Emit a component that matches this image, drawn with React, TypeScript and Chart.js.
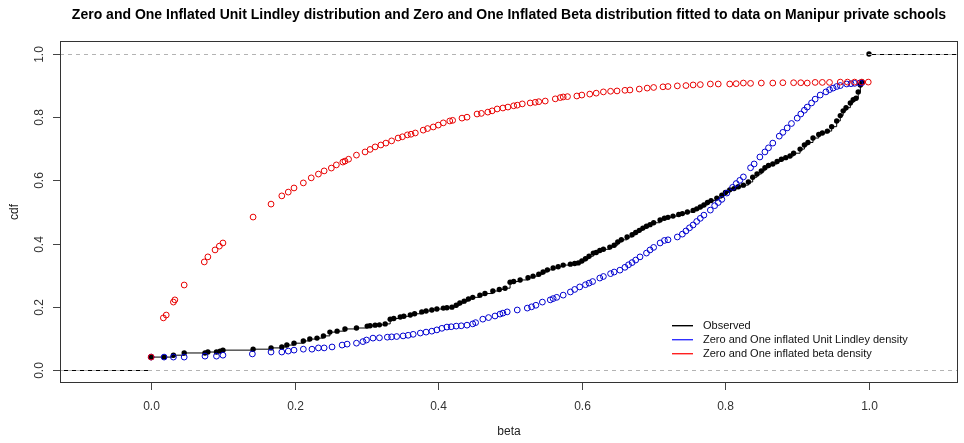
import React, { useEffect, useRef } from 'react';
import { Chart, registerables } from 'chart.js';
Chart.register(...registerables);

const titleText =
  'Zero and One Inflated Unit Lindley distribution and Zero and One Inflated Beta distribution fitted to data on Manipur private schools';
const xAxisLabel = 'beta';
const yAxisLabel = 'cdf';
const xTickValues = [0, 0.2, 0.4, 0.6, 0.8, 1.0];
const xTickLabels = ['0.0', '0.2', '0.4', '0.6', '0.8', '1.0'];
const yTickValues = [0, 0.2, 0.4, 0.6, 0.8, 1.0];
const yTickLabels = ['0.0', '0.2', '0.4', '0.6', '0.8', '1.0'];
const legendLabels = [
  'Observed',
  'Zero and One inflated Unit Lindley density',
  'Zero and One inflated beta density',
];
const legendColors = ['#000000', '#3030ff', '#ff2020'];
const xLimits = [-0.127, 1.124];
const yLimits = [-0.041, 1.041];
const refLevels = [0, 1];

// Observed empirical cdf
const obsX = [
  0.0, 0.018, 0.031, 0.046, 0.075, 0.079, 0.091, 0.096, 0.1, 0.142, 0.167, 0.182, 0.189, 0.199, 0.212, 0.221,
  0.231, 0.24, 0.249, 0.259, 0.27, 0.286, 0.301, 0.305, 0.312, 0.318, 0.326, 0.333, 0.338, 0.347, 0.352, 0.361,
  0.367, 0.377, 0.383, 0.391, 0.398, 0.407, 0.412, 0.419, 0.425, 0.43, 0.436, 0.442, 0.448, 0.458, 0.465, 0.476,
  0.485, 0.493, 0.5, 0.505, 0.514, 0.525, 0.532, 0.54, 0.546, 0.552, 0.56, 0.567, 0.574, 0.584, 0.59, 0.595,
  0.6, 0.605, 0.61, 0.616, 0.62, 0.625, 0.63, 0.639, 0.645, 0.65, 0.655, 0.663, 0.67, 0.675, 0.68, 0.685, 0.69,
  0.695, 0.7, 0.709, 0.715, 0.72, 0.727, 0.735, 0.74, 0.747, 0.755, 0.76, 0.765, 0.77, 0.775, 0.78, 0.788, 0.795,
  0.8, 0.806, 0.812, 0.818, 0.825, 0.832, 0.838, 0.844, 0.85, 0.855, 0.86, 0.866, 0.872, 0.878, 0.884, 0.89,
  0.895, 0.904, 0.91, 0.915, 0.922, 0.93, 0.935, 0.942, 0.948, 0.955, 0.96, 0.964, 0.968, 0.974, 0.978, 0.982,
  0.985, 0.988, 0.99,
];
const obsY = [
  0.041, 0.041, 0.047, 0.054, 0.054, 0.057, 0.057, 0.06, 0.063, 0.066, 0.07, 0.073, 0.079, 0.085, 0.092, 0.098,
  0.101, 0.108, 0.12, 0.123, 0.13, 0.133, 0.139, 0.14, 0.142, 0.143, 0.146, 0.161, 0.163, 0.168, 0.17, 0.174,
  0.178, 0.184, 0.187, 0.19, 0.193, 0.196, 0.197, 0.199, 0.205, 0.212, 0.218, 0.225, 0.23, 0.237, 0.242, 0.25,
  0.255, 0.259, 0.278, 0.28, 0.285, 0.292, 0.297, 0.303, 0.31, 0.317, 0.323, 0.327, 0.332, 0.335, 0.337, 0.339,
  0.345, 0.352, 0.36, 0.37, 0.372, 0.378, 0.382, 0.389, 0.395, 0.405, 0.412, 0.421, 0.428, 0.435, 0.442, 0.449, 0.455,
  0.46, 0.466, 0.475, 0.48, 0.483, 0.487, 0.492, 0.495, 0.5, 0.505, 0.51, 0.516, 0.522, 0.53, 0.536, 0.544, 0.553,
  0.562, 0.57, 0.574, 0.58, 0.585, 0.595, 0.61, 0.62, 0.63, 0.64, 0.647, 0.652, 0.66, 0.667, 0.672, 0.677,
  0.686, 0.699, 0.712, 0.72, 0.734, 0.745, 0.75, 0.756, 0.77, 0.788, 0.805, 0.82, 0.83, 0.845, 0.855, 0.86,
  0.88, 0.902, 0.911,
];
const obsOneX = [1.0];
const obsOneY = [1.0];

// Zero and One inflated Unit Lindley cdf at the data
const lindleyX = [
  0.0, 0.018, 0.031, 0.046, 0.075, 0.091, 0.1, 0.141, 0.167, 0.182, 0.191, 0.199, 0.212, 0.224, 0.233, 0.241,
  0.252, 0.266, 0.273, 0.286, 0.309, 0.329, 0.351, 0.375, 0.391, 0.412, 0.44, 0.462, 0.479, 0.496, 0.524, 0.556,
  0.56, 0.565, 0.574, 0.584, 0.59, 0.597, 0.605, 0.61, 0.615, 0.625, 0.63, 0.64, 0.645, 0.653, 0.66, 0.665, 0.67,
  0.675, 0.681, 0.69, 0.695, 0.7, 0.709, 0.715, 0.72, 0.733, 0.74, 0.745, 0.75, 0.755, 0.76, 0.765, 0.77, 0.779,
  0.785, 0.79, 0.795, 0.802, 0.81, 0.815, 0.82, 0.825, 0.835, 0.84, 0.848, 0.855, 0.86, 0.866, 0.875, 0.88, 0.886,
  0.892, 0.9, 0.905, 0.91, 0.914, 0.92, 0.925, 0.932, 0.94, 0.945, 0.95, 0.955, 0.96, 0.969, 0.975, 0.98, 0.987,
  0.99,
  0.295, 0.3, 0.318, 0.335, 0.342, 0.358, 0.365, 0.383, 0.398, 0.405, 0.418, 0.425, 0.432, 0.448, 0.452, 0.47,
  0.486, 0.49, 0.51, 0.53, 0.536, 0.545,
];
const lindleyY = [
  0.041, 0.041, 0.041, 0.041, 0.044, 0.044, 0.047, 0.051, 0.057, 0.057, 0.06, 0.063, 0.066, 0.066, 0.07, 0.07,
  0.073, 0.079, 0.082, 0.085, 0.101, 0.104, 0.108, 0.117, 0.123, 0.136, 0.142, 0.161, 0.171, 0.184, 0.196, 0.222,
  0.226, 0.23, 0.237, 0.247, 0.255, 0.263, 0.27, 0.275, 0.28, 0.291, 0.296, 0.305, 0.31, 0.316, 0.325, 0.333, 0.34,
  0.348, 0.358, 0.37, 0.38, 0.388, 0.402, 0.41, 0.412, 0.421, 0.43, 0.44, 0.45, 0.459, 0.47, 0.48, 0.49, 0.506,
  0.52, 0.53, 0.54, 0.56, 0.578, 0.59, 0.6, 0.611, 0.64, 0.652, 0.674, 0.69, 0.703, 0.718, 0.74, 0.752, 0.766,
  0.78, 0.797, 0.81, 0.822, 0.832, 0.845, 0.857, 0.87, 0.88, 0.887, 0.892, 0.897, 0.9, 0.905, 0.906, 0.907, 0.908,
  0.909,
  0.09, 0.095, 0.102, 0.105, 0.106, 0.11, 0.113, 0.12, 0.127, 0.132, 0.137, 0.139, 0.14, 0.146, 0.15, 0.166,
  0.177, 0.18, 0.19, 0.2, 0.205, 0.215,
];

// Zero and One inflated Beta cdf at the data
const betaX = [
  0.0, 0.017, 0.021, 0.031, 0.033, 0.046, 0.074, 0.079, 0.089, 0.095, 0.1, 0.142, 0.167, 0.182, 0.191, 0.199,
  0.212, 0.223, 0.233, 0.241, 0.251, 0.258, 0.267, 0.286, 0.298, 0.312, 0.327, 0.344, 0.357, 0.368, 0.379, 0.393,
  0.407, 0.416, 0.433, 0.454, 0.469, 0.482, 0.497, 0.505, 0.51, 0.517, 0.528, 0.535, 0.54, 0.549, 0.563, 0.57,
  0.574, 0.58, 0.593, 0.6, 0.611, 0.62, 0.63, 0.64, 0.649, 0.66, 0.667, 0.68, 0.691, 0.7, 0.713, 0.72, 0.733,
  0.745, 0.755, 0.765, 0.779, 0.79, 0.806, 0.815, 0.825, 0.835, 0.85, 0.866, 0.88, 0.895, 0.905, 0.914, 0.925,
  0.935, 0.945, 0.96, 0.97, 0.98, 0.99, 0.999,
  0.27, 0.275, 0.305, 0.32, 0.335, 0.35, 0.362, 0.385, 0.4, 0.42, 0.44, 0.46, 0.475, 0.49,
];
const betaY = [
  0.041, 0.165, 0.174, 0.215, 0.222, 0.269, 0.342, 0.358, 0.38, 0.392, 0.402, 0.484, 0.525, 0.551, 0.563, 0.576,
  0.592, 0.608, 0.62, 0.63, 0.639, 0.649, 0.658, 0.68, 0.69, 0.706, 0.718, 0.734, 0.744, 0.75, 0.759, 0.769,
  0.782, 0.788, 0.797, 0.81, 0.816, 0.826, 0.832, 0.836, 0.838, 0.842, 0.845, 0.847, 0.849, 0.851, 0.858, 0.862,
  0.864, 0.865, 0.867, 0.87, 0.873, 0.876, 0.88, 0.882, 0.883, 0.885, 0.886, 0.889, 0.892, 0.894, 0.896, 0.897, 0.899,
  0.9, 0.902, 0.903, 0.905, 0.905, 0.905, 0.906, 0.908, 0.907, 0.908, 0.908, 0.909, 0.909, 0.909, 0.908, 0.91,
  0.91, 0.91, 0.911, 0.911, 0.911, 0.911, 0.911,
  0.661, 0.667, 0.698, 0.712, 0.725, 0.738, 0.746, 0.764, 0.775, 0.79, 0.8, 0.812, 0.82, 0.829,
];

const zip = (xs: number[], ys: number[]) =>
  xs.map((x, i) => ({ x, y: ys[i] })).sort((a, b) => a.x - b.x);

const FONT = '"Liberation Sans", Arial, sans-serif';

const decorPlugin = {
  id: 'decor',
  beforeDatasetsDraw(chart: any) {
    const { ctx, chartArea, scales } = chart;
    const xs = scales.x;
    const ys = scales.y;
    ctx.save();
    ctx.beginPath();
    ctx.rect(chartArea.left, chartArea.top, chartArea.right - chartArea.left, chartArea.bottom - chartArea.top);
    ctx.clip();
    ctx.strokeStyle = '#000';
    ctx.lineWidth = 1;
    ctx.beginPath();
    const y0 = Math.round(ys.getPixelForValue(refLevels[0])) + 0.5;
    const y1 = Math.round(ys.getPixelForValue(refLevels[1])) + 0.5;
    ctx.moveTo(xs.getPixelForValue(xLimits[0]), y0);
    ctx.lineTo(xs.getPixelForValue(obsX[0]), y0);
    ctx.moveTo(xs.getPixelForValue(obsOneX[0]), y1);
    ctx.lineTo(xs.getPixelForValue(xLimits[1]), y1);
    ctx.stroke();
    ctx.restore();
  },
  afterDatasetsDraw(chart: any) {
    const { ctx, chartArea, scales } = chart;
    const ys = scales.y;
    ctx.save();
    ctx.strokeStyle = '#b3b3b3';
    ctx.lineWidth = 1;
    ctx.setLineDash([4, 4]);
    refLevels.forEach((lv) => {
      const py = Math.round(ys.getPixelForValue(lv)) + 0.5;
      ctx.beginPath();
      ctx.moveTo(chartArea.left, py);
      ctx.lineTo(chartArea.right, py);
      ctx.stroke();
    });
    ctx.restore();
  },
  afterDraw(chart: any) {
    const { ctx, chartArea, scales } = chart;
    const xs = scales.x;
    const ys = scales.y;
    const L = chartArea.left, R = chartArea.right, T = chartArea.top, B = chartArea.bottom;
    ctx.save();
    ctx.setLineDash([]);
    ctx.strokeStyle = '#333';
    ctx.lineWidth = 1;
    ctx.strokeRect(Math.round(L) + 0.5, Math.round(T) + 0.5, Math.round(R - L) - 1, Math.round(B - T) - 1);
    ctx.strokeStyle = '#444';
    ctx.fillStyle = '#333';
    ctx.font = `12px ${FONT}`;
    ctx.textAlign = 'center';
    ctx.textBaseline = 'middle';
    xTickValues.forEach((v, i) => {
      const px = Math.round(xs.getPixelForValue(v)) + 0.5;
      ctx.beginPath();
      ctx.moveTo(px, B);
      ctx.lineTo(px, B + 7);
      ctx.stroke();
      ctx.fillText(xTickLabels[i], px, B + 24);
    });
    yTickValues.forEach((v, i) => {
      const py = Math.round(ys.getPixelForValue(v)) + 0.5;
      ctx.beginPath();
      ctx.moveTo(L, py);
      ctx.lineTo(L - 7, py);
      ctx.stroke();
      ctx.save();
      ctx.translate(L - 20, py);
      ctx.rotate(-Math.PI / 2);
      ctx.fillText(yTickLabels[i], 0, 0);
      ctx.restore();
    });
    ctx.fillStyle = '#222';
    ctx.fillText(xAxisLabel, (L + R) / 2, B + 49);
    ctx.save();
    ctx.translate(15, (T + B) / 2);
    ctx.rotate(-Math.PI / 2);
    ctx.fillText(yAxisLabel, 0, 0);
    ctx.restore();
    ctx.fillStyle = '#000';
    ctx.font = `bold 14px ${FONT}`;
    ctx.fillText(titleText, (L + R) / 2, 15);
    ctx.font = `11px ${FONT}`;
    ctx.textAlign = 'left';
    legendLabels.forEach((lab, i) => {
      const py = 325 + i * 14;
      ctx.fillStyle = legendColors[i];
      ctx.fillRect(672, py, 21, 1.4);
      ctx.fillStyle = '#111';
      ctx.fillText(lab, 703, py + 1);
    });
    ctx.restore();
  },
};

export default function App() {
  const ref = useRef<HTMLCanvasElement | null>(null);
  useEffect(() => {
    document.body.style.margin = '0';
    const canvas = ref.current;
    if (!canvas) return;
    const chart = new Chart(canvas, {
      type: 'scatter',
      data: {
        datasets: [
          {
            label: legendLabels[2],
            data: zip(betaX, betaY),
            showLine: false,
            pointStyle: 'circle',
            pointRadius: 2.9,
            pointBorderWidth: 1,
            pointBorderColor: '#e80000',
            pointBackgroundColor: 'rgba(0,0,0,0)',
          },
          {
            label: legendLabels[1],
            data: zip(lindleyX, lindleyY),
            showLine: false,
            pointRadius: 2.9,
            pointBorderWidth: 1,
            pointBorderColor: '#0000d0',
            pointBackgroundColor: 'rgba(0,0,0,0)',
          },
          {
            label: 'one',
            data: zip(obsOneX, obsOneY),
            showLine: false,
            pointRadius: 2.7,
            pointBorderWidth: 0,
            pointBackgroundColor: '#000',
          },
          {
            label: legendLabels[0],
            data: zip(obsX, obsY),
            showLine: true,
            stepped: 'before',
            borderColor: '#000',
            borderWidth: 1,
            pointRadius: 2.7,
            pointBorderWidth: 0,
            pointBackgroundColor: '#000',
          },
        ],
      },
      options: {
        responsive: false,
        animation: false,
        devicePixelRatio: 1,
        layout: { padding: { left: 60, top: 41, right: 6, bottom: 60 } },
        plugins: { legend: { display: false }, title: { display: false }, tooltip: { enabled: false } },
        scales: {
          x: { type: 'linear', min: xLimits[0], max: xLimits[1], display: false },
          y: { type: 'linear', min: yLimits[0], max: yLimits[1], display: false },
        },
      },
      plugins: [decorPlugin],
    });
    return () => chart.destroy();
  }, []);
  return <canvas ref={ref} width={964} height={443} style={{ display: 'block' }} />;
}
